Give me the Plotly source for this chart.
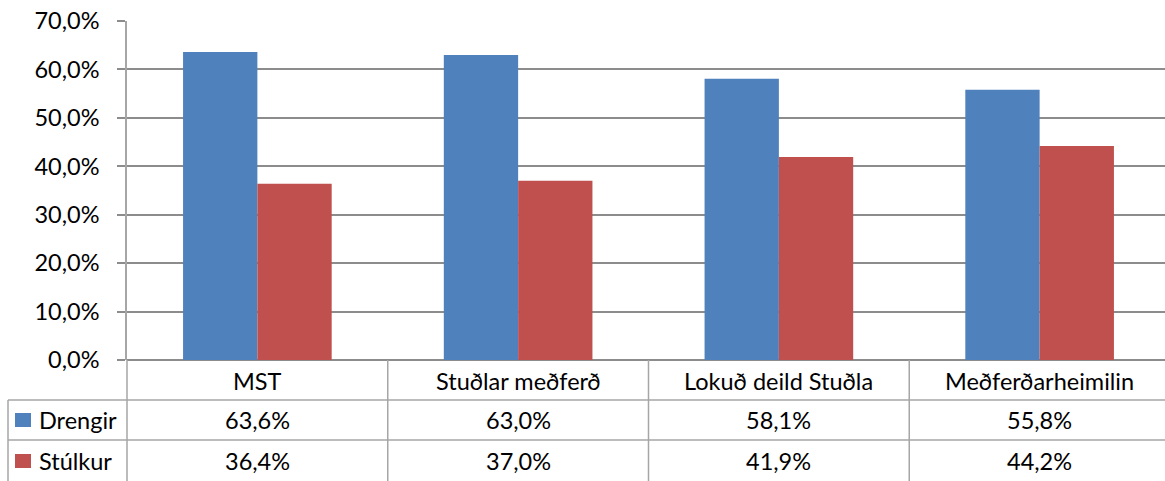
import plotly.graph_objects as go

categories = ["MST", "Stuðlar meðferð", "Lokuð deild Stuðla", "Meðferðarheimilin"]
series_names = ["Drengir", "Stúlkur"]
drengir = [63.6, 63.0, 58.1, 55.8]
stulkur = [36.4, 37.0, 41.9, 44.2]
colors = ["#4F81BD", "#C0504D"]
y_ticks = [0, 10, 20, 30, 40, 50, 60, 70]

W, H = 1170, 481
L, R = 127, 1170
T, B = 21, 360
FONT = "Lato"
FS = 23.5
LINE = "#A6A6A6"

def px(x):
    return (x - L) / (R - L)

def py(y):
    return (B - y) / (B - T)

def fmt(v):
    return f"{v:.1f}%".replace(".", ",")

fig = go.Figure()
for name, vals, col in zip(series_names, [drengir, stulkur], colors):
    fig.add_trace(go.Bar(x=categories, y=vals, name=name, marker=dict(color=col, line=dict(width=0))))

shapes = []
annotations = []
ncat = len(categories)
for yy in [400, 440]:
    shapes.append(dict(type="line", xref="paper", yref="paper", x0=px(8), x1=px(R), y0=py(yy), y1=py(yy),
                       line=dict(color=LINE, width=1.5)))
for i in range(ncat):
    xx = L + i * (R - L) / ncat
    shapes.append(dict(type="line", xref="paper", yref="paper", x0=px(xx), x1=px(xx), y0=py(B), y1=py(H),
                       line=dict(color=LINE, width=1.5)))
shapes.append(dict(type="line", xref="paper", yref="paper", x0=px(8), x1=px(8), y0=py(400), y1=py(H),
                   line=dict(color=LINE, width=1.5)))

for i, c in enumerate(categories):
    cx = L + (i + 0.5) * (R - L) / ncat
    annotations.append(dict(xref="paper", yref="paper", x=px(cx), y=py(381), text=c, showarrow=False,
                            xanchor="center", yanchor="middle", font=dict(family=FONT, size=FS, color="#000")))
for r, (name, vals, col) in enumerate(zip(series_names, [drengir, stulkur], colors)):
    yc = 420 + r * 41
    shapes.append(dict(type="rect", xref="paper", yref="paper", x0=px(15), x1=px(31), y0=py(yc - 7), y1=py(yc + 7),
                       fillcolor=col, line=dict(width=0)))
    annotations.append(dict(xref="paper", yref="paper", x=px(37), y=py(yc), text=name, showarrow=False,
                            xanchor="left", yanchor="middle", font=dict(family=FONT, size=FS, color="#000")))
    for i, v in enumerate(vals):
        cx = L + (i + 0.5) * (R - L) / ncat
        annotations.append(dict(xref="paper", yref="paper", x=px(cx), y=py(yc), text=fmt(v), showarrow=False,
                                xanchor="center", yanchor="middle", font=dict(family=FONT, size=FS, color="#000")))

fig.update_layout(
    width=W, height=H,
    margin=dict(l=L, r=W - R, t=T, b=H - B, pad=0, autoexpand=False),
    paper_bgcolor="white", plot_bgcolor="white",
    barmode="group", bargap=0.43, bargroupgap=0,
    showlegend=False,
    shapes=shapes, annotations=annotations,
    font=dict(family=FONT, size=FS, color="#000"),
)
fig.update_xaxes(showticklabels=False, showgrid=False, showline=False, zeroline=False, ticks="", automargin=False)
fig.update_yaxes(range=[0, 70], tickmode="array", tickvals=y_ticks, ticktext=[fmt(v) for v in y_ticks],
                 automargin=False, ticklabelstandoff=13,
                 showgrid=True, gridcolor="#8C8C8C", gridwidth=1.5,
                 zeroline=True, zerolinecolor="#8C8C8C", zerolinewidth=1.5,
                 showline=True, linecolor="#A6A6A6", linewidth=1.5,
                 ticks="outside", ticklen=8, tickcolor="#8C8C8C", tickwidth=1.5,
                 tickfont=dict(family=FONT, size=FS, color="#000"))

fig.write_html("out.html", config={"displayModeBar": False},
               post_script="document.body.style.margin='0';document.body.style.overflow='hidden';")
